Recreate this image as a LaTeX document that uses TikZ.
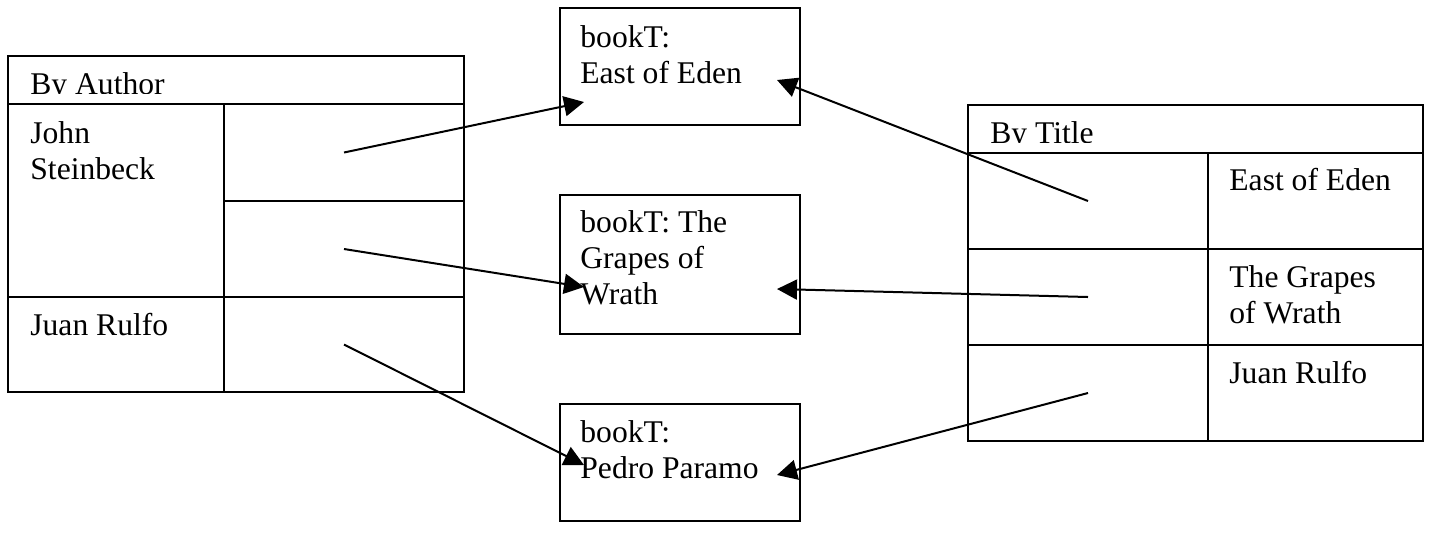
\documentclass[tikz,border=0pt]{standalone}
\usepackage{fontspec}
\setmainfont{Liberation Serif}
\usepackage{tikz}
\usetikzlibrary{arrows.meta}
\newcommand{\celltext}[1]{\begin{tabular}[t]{@{}l@{}}#1\end{tabular}}
\tikzstyle{cell} = [rectangle, draw=black, line width=1pt, inner sep=0pt, outer sep=0pt, anchor=north west]
\tikzstyle{book} = [rectangle, draw=black, line width=1pt, inner sep=0pt, outer sep=0pt, minimum width=120pt]
\tikzstyle{entry} = [anchor=base west, inner sep=0pt, font=\fontsize{15.8pt}{18pt}\selectfont]
\tikzstyle{arrow} = [line width=1pt, -{Triangle[length=10pt, width=10pt]}]

\begin{document}
\begin{tikzpicture}[x=0.5pt, y=-0.5pt, node distance=99pt]
\useasboundingbox (0,0) rectangle (1430,538);
% the three book objects
\node (eden) [book, minimum height=58.5pt] at (680,66.5) {};
\node (grapes) [book, minimum height=69.5pt, below of=eden] {};
\node (pedro) [book, minimum height=58.5pt, below of=grapes] {};
\node (edentext) [entry] at ([xshift=10pt, yshift=-19.5pt]eden.north west) {\celltext{bookT:\\East of Eden}};
\node (grapestext) [entry] at ([xshift=10pt, yshift=-18.5pt]grapes.north west) {\celltext{bookT: The\\Grapes of\\Wrath}};
\node (pedrotext) [entry] at ([xshift=10pt, yshift=-19pt]pedro.north west) {\celltext{bookT:\\Pedro Paramo}};
% index by author
\node (authorhead) [cell, minimum width=228pt, minimum height=24pt] at (8,56) {};
\node (steinbeck) [cell, minimum width=108pt, minimum height=96.5pt] at (authorhead.south west) {};
\node (steinbeck1) [cell, minimum width=120pt, minimum height=48.5pt] at (steinbeck.north east) {};
\node (steinbeck2) [cell, minimum width=120pt, minimum height=48pt] at (steinbeck1.south west) {};
\node (rulfo) [cell, minimum width=108pt, minimum height=47.5pt] at (steinbeck.south west) {};
\node (rulfo1) [cell, minimum width=120pt, minimum height=47.5pt] at (rulfo.north east) {};
\begin{scope}
\clip (authorhead.north west) rectangle ([yshift=-18.5pt]authorhead.north east);
\node (authortext) [entry] at ([xshift=11pt, yshift=-19pt]authorhead.north west) {By Author};
\end{scope}
\node (steinbecktext) [entry] at ([xshift=11pt, yshift=-19.5pt]steinbeck.north west) {\celltext{John\\Steinbeck}};
\node (rulfotext) [entry] at ([xshift=11pt, yshift=-19pt]rulfo.north west) {Juan Rulfo};
% index by title
\node (titlehead) [cell, minimum width=227.5pt, minimum height=24pt] at (968,105) {};
\node (edenref) [cell, minimum width=120pt, minimum height=48pt] at (titlehead.south west) {};
\node (edenname) [cell, minimum width=107.5pt, minimum height=48pt] at (edenref.north east) {};
\node (grapesref) [cell, minimum width=120pt, minimum height=48pt] at (edenref.south west) {};
\node (grapesname) [cell, minimum width=107.5pt, minimum height=48pt] at (grapesref.north east) {};
\node (pedroref) [cell, minimum width=120pt, minimum height=48pt] at (grapesref.south west) {};
\node (pedroname) [cell, minimum width=107.5pt, minimum height=48pt] at (pedroref.north east) {};
\begin{scope}
\clip (titlehead.north west) rectangle ([yshift=-18.5pt]titlehead.north east);
\node (titletext) [entry] at ([xshift=11pt, yshift=-19pt]titlehead.north west) {By Title};
\end{scope}
\node (edennametext) [entry] at ([xshift=10.5pt, yshift=-18.5pt]edenname.north west) {East of Eden};
\node (grapesnametext) [entry] at ([xshift=10.5pt, yshift=-19pt]grapesname.north west) {\celltext{The Grapes\\of Wrath}};
\node (pedronametext) [entry] at ([xshift=10.5pt, yshift=-19pt]pedroname.north west) {Juan Rulfo};
% arrow ends inside the books
\coordinate (edenleft) at ([xshift=12pt, yshift=-47pt]eden.north west);
\coordinate (edenright) at ([xshift=-11.5pt, yshift=-36pt]eden.north east);
\coordinate (grapesleft) at ([xshift=12pt, yshift=-46pt]grapes.north west);
\coordinate (grapesright) at ([xshift=-11.5pt, yshift=-47pt]grapes.north east);
\coordinate (pedroleft) at ([xshift=12pt, yshift=-30.5pt]pedro.north west);
\coordinate (pedroright) at ([xshift=-11.5pt, yshift=-35.5pt]pedro.north east);
\draw [arrow] (steinbeck1.center) -- (edenleft);
\draw [arrow] (steinbeck2.center) -- (grapesleft);
\draw [arrow] (rulfo1.center) -- (pedroleft);
\draw [arrow] (edenref.center) -- (edenright);
\draw [arrow] (grapesref.center) -- (grapesright);
\draw [arrow] (pedroref.center) -- (pedroright);
\end{tikzpicture}
\end{document}
